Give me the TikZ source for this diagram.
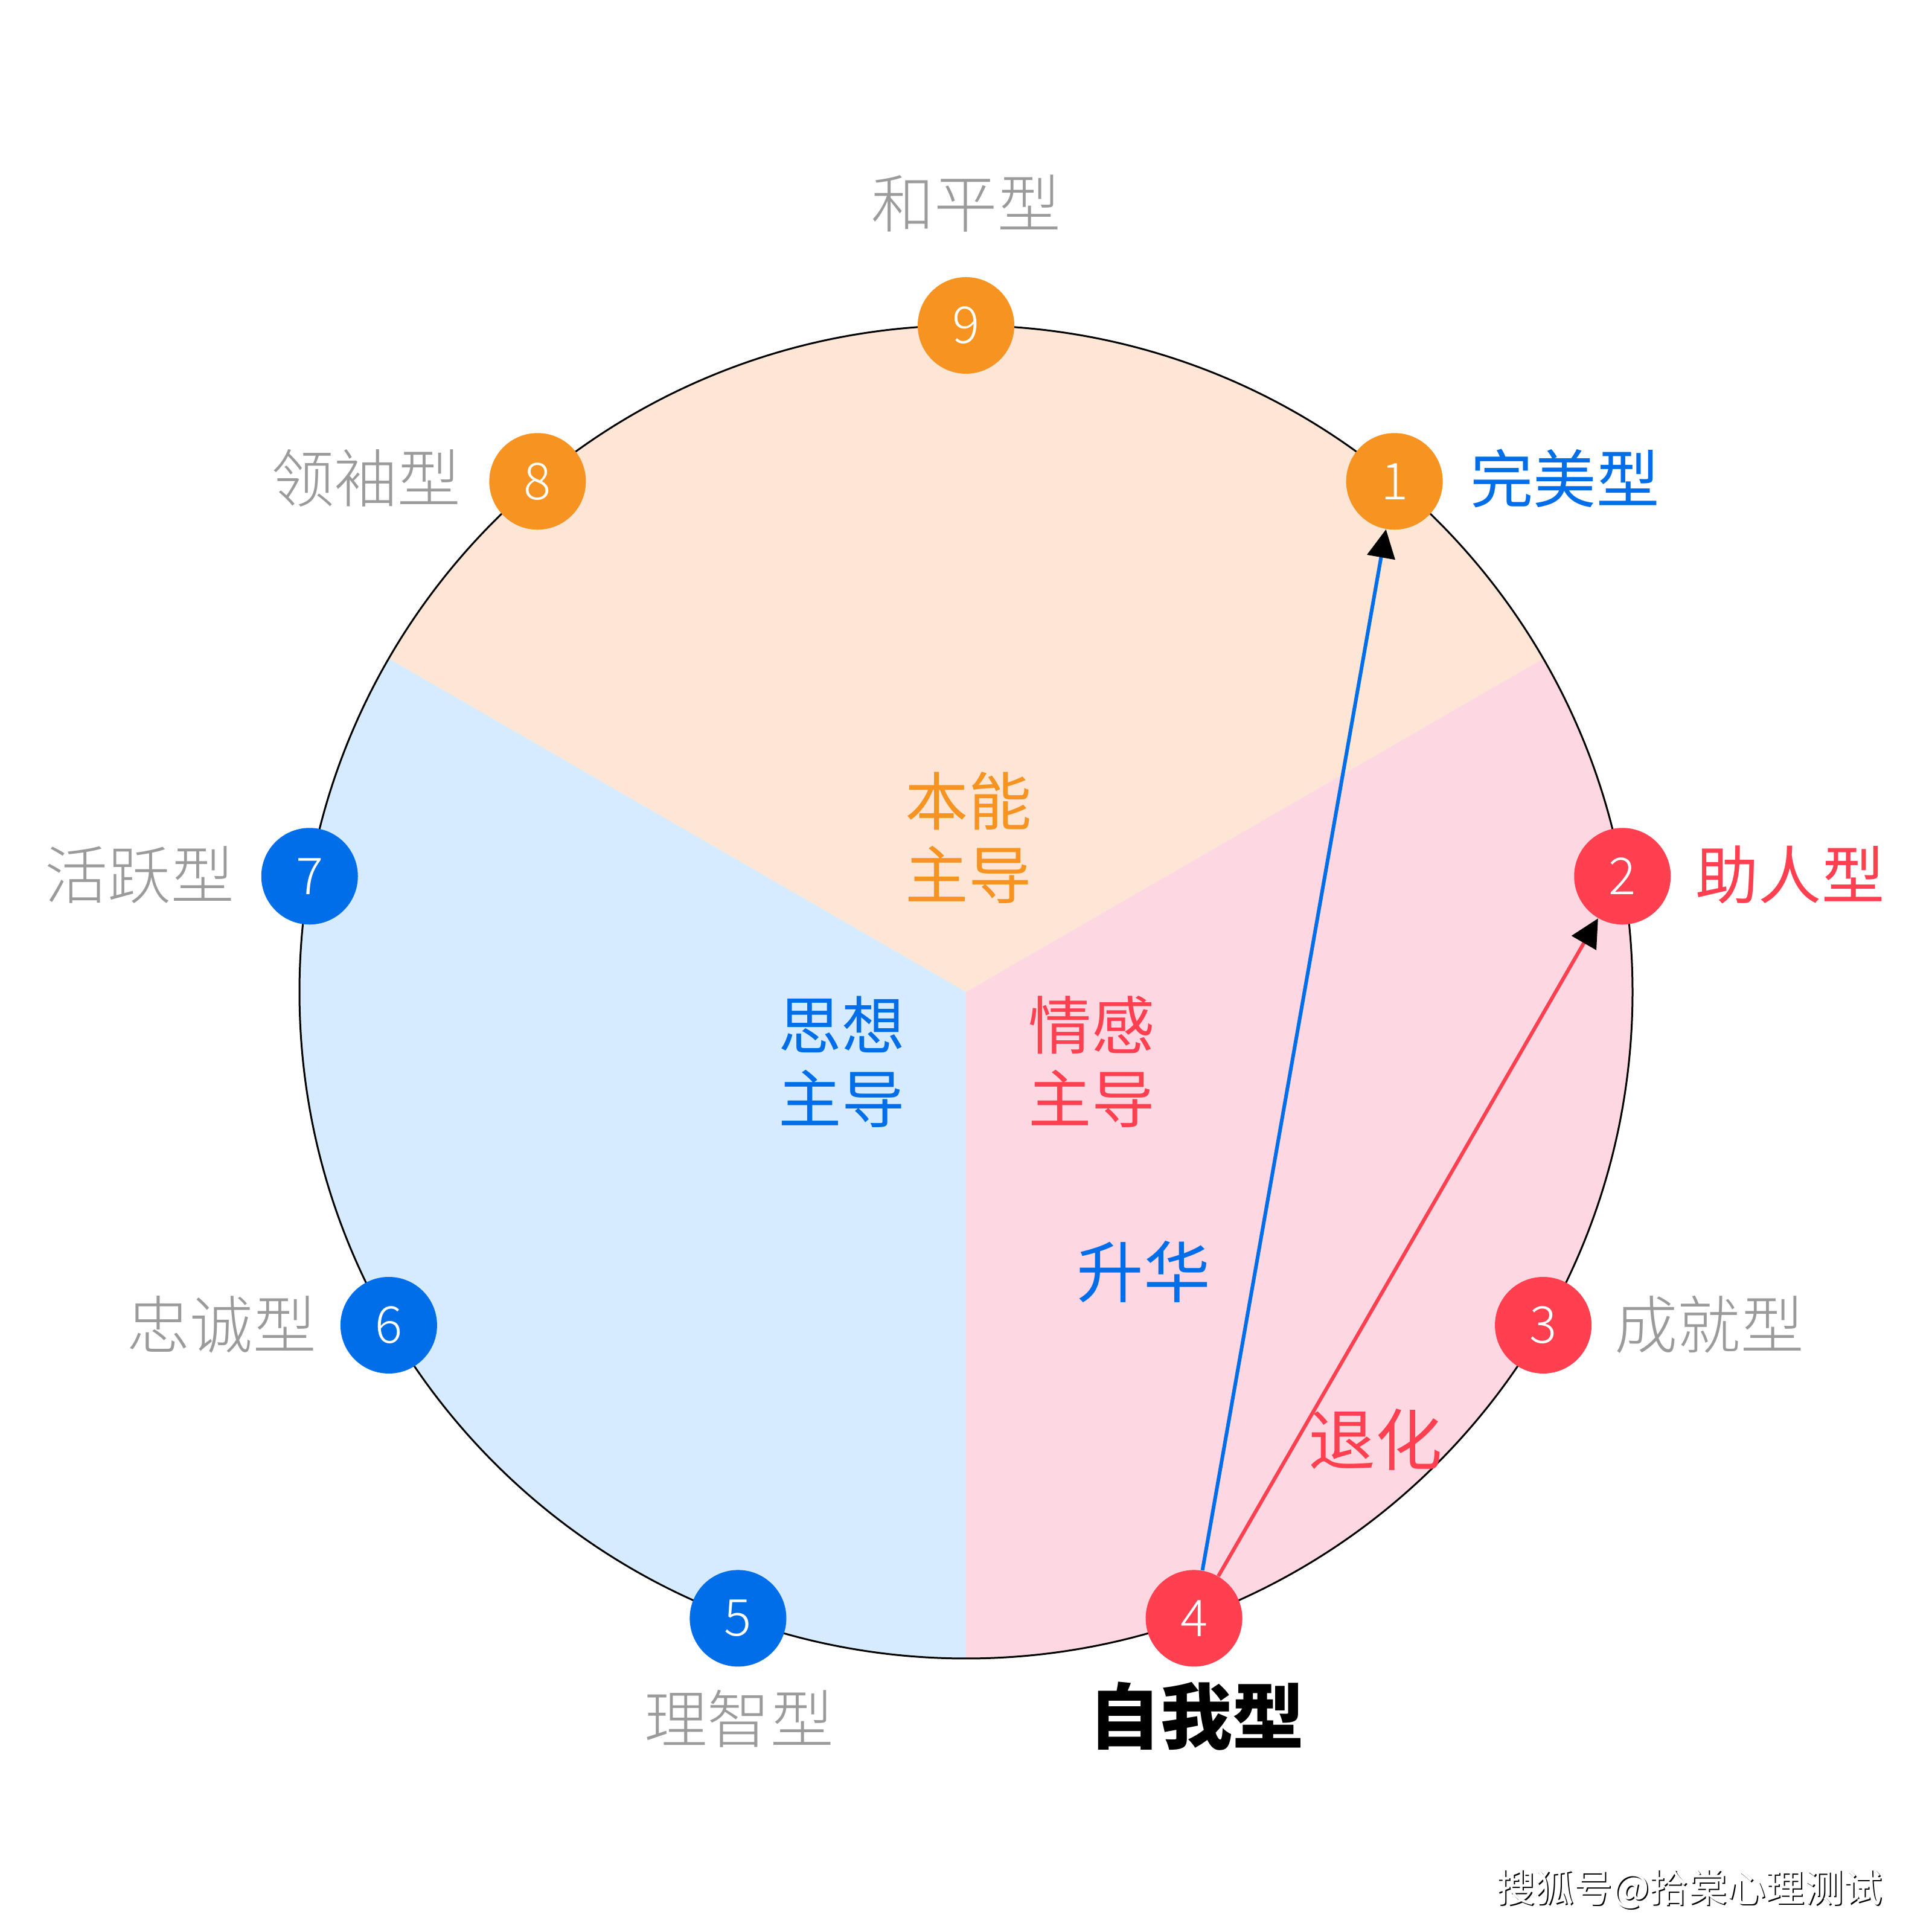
\documentclass[tikz,border=0pt]{standalone}
\usepackage{fontspec}
\newfontfamily\cjk{Noto Sans CJK SC}
\newfontfamily\cjkl{Noto Sans CJK SC}[UprightFont={* Light}]
\usetikzlibrary{arrows.meta,calc}
\definecolor{secO}{RGB}{253,230,214}
\definecolor{secP}{RGB}{253,215,225}
\definecolor{secB}{RGB}{214,235,253}
\definecolor{cO}{RGB}{246,147,33}
\definecolor{cR}{RGB}{255,64,80}
\definecolor{cB}{RGB}{0,110,232}
\definecolor{cG}{RGB}{155,155,155}
\tikzset{
  badge/.style={circle,minimum size=1.6cm,inner sep=0pt,text=white,font=\cjkl\fontsize{24}{28}\selectfont},
  lbl/.style={font=\cjk\fontsize{29.7}{34.7}\selectfont,inner sep=0pt,align=center},
  glbl/.style={lbl,font=\cjkl\fontsize{29.7}{34.7}\selectfont,text=cG},
  tipk/.style={-{Triangle[length=0.47cm,width=0.46cm,black]}}
}
\begin{document}
\begin{tikzpicture}
\useasboundingbox (0,0) rectangle (32,32);
\fill[white] (0,0) rectangle (32,32);
\coordinate (C) at (16,15.57);
\def\R{11.04}
% sectors
\fill[secO] (C) -- ($(C)+(30:\R)$) arc[start angle=30,end angle=150,radius=\R] -- cycle;
\fill[secP] (C) -- ($(C)+(-90:\R)$) arc[start angle=-90,end angle=30,radius=\R] -- cycle;
\fill[secB] (C) -- ($(C)+(150:\R)$) arc[start angle=150,end angle=270,radius=\R] -- cycle;
\draw[line width=0.03cm] (C) circle[radius=\R];
% badge nodes
\node[badge,fill=cO] (n9) at ($(C)+(90:\R)$) {9};
\node[badge,fill=cO] (n1) at ($(C)+(50:\R)$) {1};
\node[badge,fill=cR] (n2) at ($(C)+(10:\R)$) {2};
\node[badge,fill=cR] (n3) at ($(C)+(-30:\R)$) {3};
\node[badge,fill=cR] (n4) at ($(C)+(-70:\R)$) {4};
\node[badge,fill=cB] (n5) at ($(C)+(-110:\R)$) {5};
\node[badge,fill=cB] (n6) at ($(C)+(-150:\R)$) {6};
\node[badge,fill=cB] (n7) at ($(C)+(170:\R)$) {7};
\node[badge,fill=cO] (n8) at ($(C)+(130:\R)$) {8};
% connectors
\draw[cB,line width=0.06cm,tipk] (n4) -- (n1);
\draw[cR,line width=0.06cm,tipk] (n4) -- (n2);
% labels
\node[glbl] (t9) at (16.00,28.63) {和平型};
\node[glbl] (t8) at (6.06,24.08) {领袖型};
\node[lbl,text=cB] (t1) at (25.92,24.08) {完美型};
\node[glbl] (t7) at (2.31,17.51) {活跃型};
\node[lbl,text=cR] (t2) at (29.65,17.51) {助人型};
\node[glbl] (t6) at (3.67,10.06) {忠诚型};
\node[glbl] (t3) at (28.31,10.06) {成就型};
\node[glbl] (t5) at (12.24,3.53) {理智型};
\node[lbl,font=\cjk\bfseries\fontsize{33.8}{38}\selectfont] (t4) at (19.82,3.57) {自我型};
\node[lbl,text=cO] (gO) at (16.04,18.12) {本能\\主导};
\node[lbl,text=cB] (gB) at (13.94,14.41) {思想\\主导};
\node[lbl,text=cR] (gR) at (18.08,14.41) {情感\\主导};
\node[lbl,text=cB,font=\cjk\fontsize{31.5}{36}\selectfont] (up) at (18.94,10.94) {升华};
\node[lbl,text=cR,font=\cjk\fontsize{31.5}{36}\selectfont] (down) at (22.78,8.16) {退化};
% watermark
\node[lbl,font=\cjk\fontsize{18.3}{22}\selectfont,text=black] (wms) at (28.00,0.69) {搜狐号@拾棠心理测试};
\node[lbl,font=\cjk\fontsize{18.3}{22}\selectfont,text=white] (wm) at (27.98,0.71) {搜狐号@拾棠心理测试};
\end{tikzpicture}
\end{document}
